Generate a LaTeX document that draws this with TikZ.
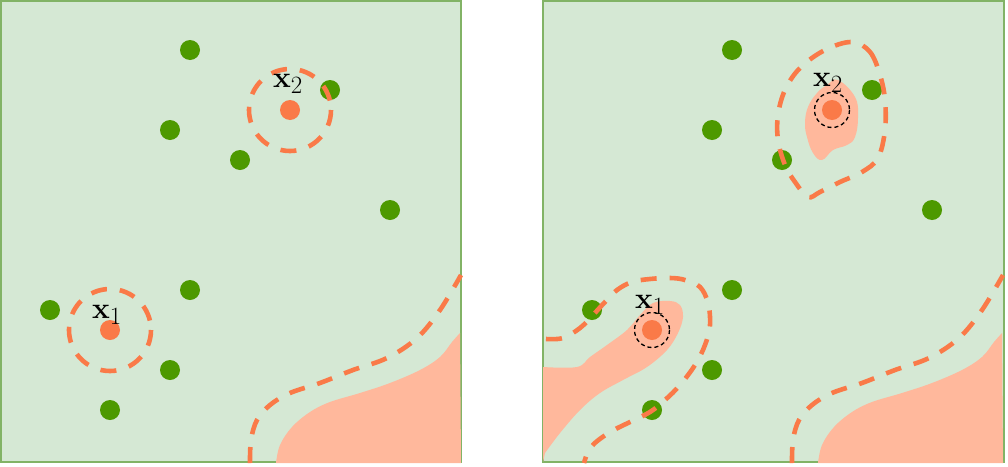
\documentclass[tikz,border=0pt]{standalone}
\definecolor{bgGreen}{HTML}{D5E8D4}
\definecolor{bdGreen}{HTML}{82B366}
\definecolor{dotGreen}{HTML}{4D9900}
\definecolor{dotOrange}{HTML}{FA7A48}
\definecolor{blobPink}{HTML}{FFB89C}
\tikzset{
  panel/.style={fill=bgGreen,draw=bdGreen,line width=2pt},
  gdot/.style={circle,fill=dotGreen,minimum size=20pt,inner sep=0pt,draw=none},
  odot/.style={circle,fill=dotOrange,minimum size=20pt,inner sep=0pt,draw=none},
  bound/.style={draw=dotOrange,line width=4.6pt,dash pattern=on 16pt off 13pt},
  ball/.style={draw=black,line width=1.3pt,dash pattern=on 4pt off 3pt},
  blob/.style={fill=blobPink,draw=none},
  lab/.style={inner sep=0pt,font=\Huge,scale=1.2}
}
\begin{document}
\begin{tikzpicture}[x=1pt,y=-1pt]
\useasboundingbox (0,0) rectangle (1008,466);
% panels
\draw[panel] (1,1) rectangle (461,462);
\draw[panel] (543,1) rectangle (1004,462);

% ---------- left panel ----------
\fill[blob] plot[smooth,tension=0.6] coordinates {(276,463) (280,445) (292,427) (310,412) (330,402) (360,393) (390,383) (420,370) (440,357) (452,342) (460,333)} -- (461,463) -- cycle;
\foreach \n/\p in {a/{(190,50)},b/{(330,90)},c/{(170,130)},d/{(240,160)},e/{(390,210)},f/{(190,290)},g/{(50,310)},h/{(170,370)},i/{(110,410)}}
  \node[gdot] (L\n) at \p {};
\node[odot] (Lx2) at (290,110) {};
\node[odot] (Lx1) at (110,330) {};
\draw[bound] (Lx2) circle[radius=41];
\draw[bound] (Lx1) circle[radius=41];
\draw[bound] plot[smooth,tension=0.6] coordinates {(250,463) (251,440) (257,420) (270,405) (290,393) (320,383) (353,370) (387,358) (417,338) (440,310) (461,275)};
\node[lab] (Llx2) at (288,84) {$\mathbf{x}_2$};
\node[lab] (Llx1) at (107,315) {$\mathbf{x}_1$};

% ---------- right panel ----------
\fill[blob] plot[smooth,tension=0.6] coordinates {(818,463) (822,445) (834,427) (852,412) (872,402) (902,393) (932,383) (962,370) (982,357) (994,342) (1002,333)} -- (1003,463) -- cycle;
\fill[blob] plot[smooth,tension=0.6] coordinates {(543,367) (577,367) (590,357) (607,345) (627,330) (640,315) (653,303) (670,301) (680,305) (683,317) (678,333) (667,350) (647,367) (623,380) (600,393) (580,410) (560,433) (545,453)} -- (543,462) -- cycle;
\fill[blob] plot[smooth cycle,tension=0.7] coordinates {(838,80) (855,97) (858,117) (855,137) (847,145) (833,150) (822,160) (813,153) (807,137) (805,123) (808,107) (817,93) (827,85)};
\foreach \n/\p in {a/{(732,50)},b/{(872,90)},c/{(712,130)},d/{(782,160)},e/{(932,210)},f/{(732,290)},g/{(592,310)},h/{(712,370)},i/{(652,410)}}
  \node[gdot] (R\n) at \p {};
\node[odot] (Rx2) at (832,110) {};
\node[odot] (Rx1) at (652,330) {};
\draw[ball] (Rx2) circle[radius=17.5];
\draw[ball] (Rx1) circle[radius=17.5];
\draw[bound] plot[smooth,tension=0.6] coordinates {(792,463) (793,440) (799,420) (812,405) (832,393) (862,383) (895,370) (929,358) (959,338) (982,310) (1003,275)};
\draw[bound] plot[smooth,tension=0.6] coordinates {(546,339) (563,338) (580,328) (593,315) (605,302) (617,290) (632,282) (650,279) (670,278) (685,280) (700,287) (708,303) (710,325) (705,345) (695,365) (680,385) (665,400) (650,412) (630,422) (612,431) (596,442) (588,452) (584,463)};
\draw[bound] plot[smooth cycle,tension=0.6] coordinates {(852,42) (870,52) (880,75) (885,100) (885,130) (878,158) (862,172) (840,182) (820,192) (808,197) (795,182) (785,165) (778,140) (778,115) (785,90) (800,68) (825,50)};
\node[lab] (Rlx2) at (828,83) {$\mathbf{x}_2$};
\node[lab] (Rlx1) at (650,305) {$\mathbf{x}_1$};
\end{tikzpicture}
\end{document}
